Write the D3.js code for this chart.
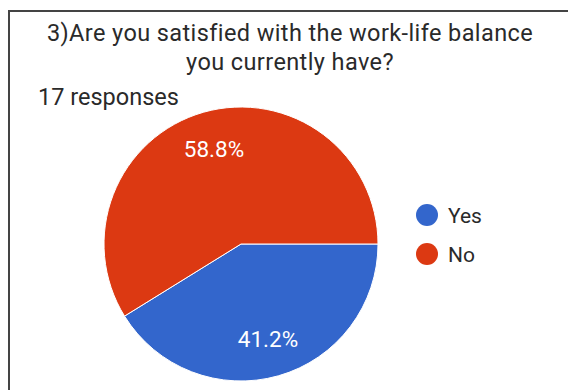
<!DOCTYPE html>
<html>
<head>
<meta charset="utf-8">
<script src="https://cdn.jsdelivr.net/npm/d3@7"></script>
<style>
  html, body { margin: 0; padding: 0; background: #fff; }
  svg { display: block; }
</style>
</head>
<body>
<svg id="chart" width="568" height="390"></svg>
<script>
// Survey answers and their counts
const categories = ["Yes", "No"];
const counts = [7, 10];
const colors = ["#3366cc", "#dc3912"];
const titleLines = ["3)Are you satisfied with the work-life balance", "you currently have?"];
const responsesLabel = "17 responses";

const svg = d3.select("#chart");

// Card frame (top and left edges)
svg.append("path")
  .attr("d", "M9,390 L9,11 L568,11")
  .attr("fill", "none")
  .attr("stroke", "#444")
  .attr("stroke-width", 2);

// Title
svg.selectAll("text.title")
  .data(titleLines)
  .join("text")
  .attr("class", "title")
  .attr("x", 290)
  .attr("y", (d, i) => 41 + i * 29)
  .attr("text-anchor", "middle")
  .attr("font-family", "Roboto, sans-serif")
  .attr("font-size", 23.5)
  .attr("letter-spacing", 0.4)
  .attr("fill", "#2a2a2a")
  .text(d => d);

svg.append("text")
  .attr("x", 38)
  .attr("y", 105)
  .attr("font-family", "Roboto, sans-serif")
  .attr("font-size", 23.5)
  .attr("fill", "#2a2a2a")
  .text(responsesLabel);

// Pie
const cx = 241, cy = 244, r = 137;
const total = d3.sum(counts);
const pie = d3.pie().sort(null).startAngle(Math.PI / 2).endAngle(Math.PI / 2 + 2 * Math.PI);
const arcs = pie(counts);
const arc = d3.arc().innerRadius(0).outerRadius(r);
const labelArc = d3.arc().innerRadius(r * 0.72).outerRadius(r * 0.72);
const color = d3.scaleOrdinal().domain(categories).range(colors);

const g = svg.append("g").attr("transform", `translate(${cx},${cy})`);
g.selectAll("path")
  .data(arcs)
  .join("path")
  .attr("d", arc)
  .attr("fill", (d, i) => color(categories[i]))
  .attr("stroke", "#fff")
  .attr("stroke-width", 1);

g.selectAll("text")
  .data(arcs)
  .join("text")
  .attr("transform", d => `translate(${labelArc.centroid(d)})`)
  .attr("text-anchor", "middle")
  .attr("dy", "0.36em")
  .attr("font-family", "Roboto, sans-serif")
  .attr("font-size", 22.5)
  .attr("fill", "#fff")
  .text(d => (d.data / total * 100).toFixed(1) + "%");

// Legend
const legend = svg.append("g").attr("transform", "translate(427,215)");
const items = legend.selectAll("g")
  .data(categories)
  .join("g")
  .attr("transform", (d, i) => `translate(0,${i * 39})`);
items.append("circle")
  .attr("r", 11)
  .attr("fill", d => color(d));
items.append("text")
  .attr("x", 21)
  .attr("dy", "0.36em")
  .attr("font-family", "Roboto, sans-serif")
  .attr("font-size", 21)
  .attr("fill", "#2a2a2a")
  .text(d => d);
</script>
</body>
</html>
